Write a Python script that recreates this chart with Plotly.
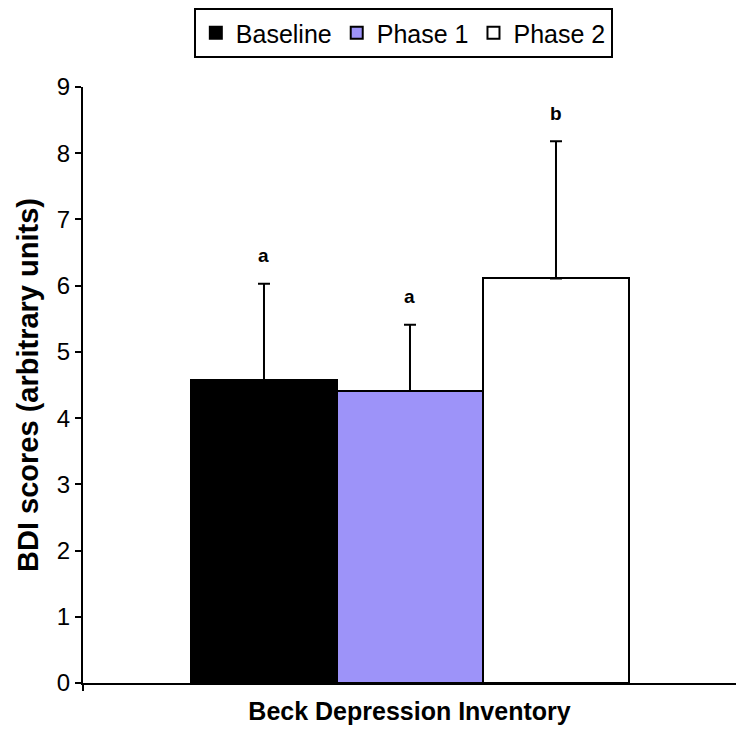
import plotly.graph_objects as go

groups = ["Baseline", "Phase 1", "Phase 2"]
means = [4.57, 4.41, 6.11]
errors = [1.46, 1.00, 2.07]
letters = ["a", "a", "b"]
category = "Beck Depression Inventory"
y_ticks = [0, 1, 2, 3, 4, 5, 6, 7, 8, 9]

fills = ["#000000", "#9d93f9", "#ffffff"]
positions = [0, 1, 2]

FONT = "Liberation Sans, Arial"

fig = go.Figure()
for g, m, e, c, p in zip(groups, means, errors, fills, positions):
    fig.add_trace(go.Bar(
        x=[p], y=[m], name=g, width=1.0,
        marker=dict(color=c, line=dict(color="#000000", width=2)),
        error_y=dict(type="data", array=[e], symmetric=False, arrayminus=[0],
                     color="#000000", thickness=2, width=6),
    ))

for p, m, e, t in zip(positions, means, errors, letters):
    fig.add_annotation(x=p, y=m + e, text="<b>" + t + "</b>", showarrow=False,
                       yanchor="middle", yshift=28,
                       font=dict(family=FONT, size=19, color="#000000"))

fig.update_layout(
    width=736, height=731,
    margin=dict(l=83, r=0, t=87, b=48),
    paper_bgcolor="white", plot_bgcolor="white",
    showlegend=True,
    legend=dict(orientation="h", xref="container", yref="container",
                x=0.548, xanchor="center", y=0.989, yanchor="top",
                bordercolor="#000000", borderwidth=2, bgcolor="white",
                font=dict(family=FONT, size=25, color="#000000"),
                itemwidth=30, traceorder="normal"),
    bargap=0,
    xaxis=dict(range=[-1.2397, 3.233], showgrid=False, zeroline=False,
               showline=True, linecolor="#000000", linewidth=2,
               tickvals=[-1.2397], ticktext=[""], ticks="outside", ticklen=6,
               tickcolor="#000000", tickwidth=2,
               title=dict(text="<b>" + category + "</b>", standoff=10,
                          font=dict(family=FONT, size=25, color="#000000"))),
    yaxis=dict(range=[0, 9], tickvals=y_ticks, showgrid=False, zeroline=False,
               showline=True, linecolor="#000000", linewidth=2,
               ticks="outside", ticklen=6, tickcolor="#000000", tickwidth=2,
               tickfont=dict(family=FONT, size=24, color="#000000"),
               title=dict(text="<b>BDI scores (arbitrary units)</b>", standoff=10,
                          font=dict(family=FONT, size=29, color="#000000"))),
)

fig.write_html("out.html")
